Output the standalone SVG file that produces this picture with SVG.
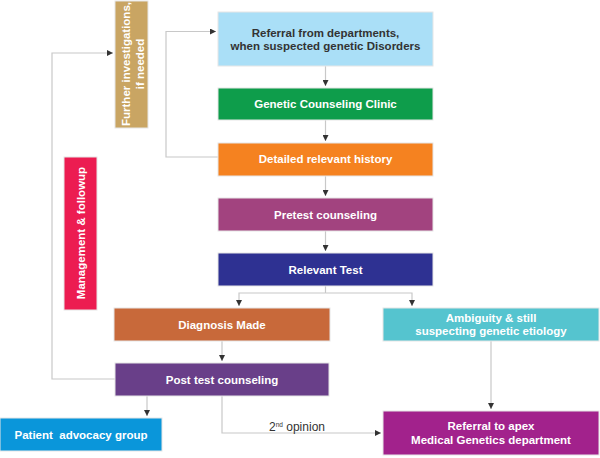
<svg xmlns="http://www.w3.org/2000/svg" width="600" height="458" viewBox="0 0 600 458">
<defs>
<marker id="ah" viewBox="0 0 10 10" refX="10" refY="5" markerWidth="7" markerHeight="6" markerUnits="userSpaceOnUse" orient="auto">
<path d="M0,0 L10,5 L0,10 Z" fill="#333"/>
</marker>
</defs>
<style>
.box{stroke:#e6e6e6;stroke-width:1}
.t{font-family:"Liberation Sans",Arial,sans-serif;font-weight:bold;font-size:11.5px;fill:#fff;text-anchor:middle}
.dk{fill:#333}
.ln{fill:none;stroke:#c8c8c8;stroke-width:1.2}
.lab{font-family:"Liberation Sans",Arial,sans-serif;font-size:12px;fill:#333;text-anchor:middle}
</style>
<rect width="600" height="458" fill="#fff"/>
<g id="connectors">
<path class="ln" d="M325.5,66 V86" marker-end="url(#ah)"/>
<path class="ln" d="M325.5,120 V141" marker-end="url(#ah)"/>
<path class="ln" d="M325.5,176 V196" marker-end="url(#ah)"/>
<path class="ln" d="M325.5,231 V251" marker-end="url(#ah)"/>
<path class="ln" d="M218,157 H166 V31.5 H216" marker-end="url(#ah)"/>
<path class="ln" d="M325.5,286 V293"/>
<path class="ln" d="M325.5,293 H239 V306" marker-end="url(#ah)"/>
<path class="ln" d="M325.5,293 H412 V306" marker-end="url(#ah)"/>
<path class="ln" d="M222,341 V361" marker-end="url(#ah)"/>
<path class="ln" d="M115,379 H52 V53 H113" marker-end="url(#ah)"/>
<path class="ln" d="M147,396 V416" marker-end="url(#ah)"/>
<path class="ln" d="M222,396 V433 H381" marker-end="url(#ah)"/>
<path class="ln" d="M491,341 V409" marker-end="url(#ah)"/>
<text class="lab" x="297" y="431">2<tspan font-size="6.5" dy="-4.5">nd</tspan><tspan dy="4.5"> opinion</tspan></text>
</g>
<g id="further">
<rect class="box" x="115" y="1" width="33" height="127" fill="#c9a563"/>
<g transform="translate(131.5,64) rotate(-90)">
<text class="t" x="0" y="-1.5">Further investigations,</text>
<text class="t" x="0" y="12.5">if needed</text>
</g>
</g>
<g id="management">
<rect class="box" x="64" y="157" width="33" height="153" fill="#ec1c51"/>
<text class="t" transform="translate(80.5,233) rotate(-90)" x="0" y="4">Management &amp; followup</text>
</g>
<g id="referral">
<rect class="box" x="218" y="12" width="215" height="54" fill="#aadff7"/>
<text class="t dk" x="325.5" y="37">Referral from departments,</text>
<text class="t dk" x="325.5" y="49.5">when suspected genetic Disorders</text>
</g>
<g id="clinic">
<rect class="box" x="218" y="88" width="215" height="32" fill="#0e9d4b"/>
<text class="t" x="325.5" y="108">Genetic Counseling Clinic</text>
</g>
<g id="history">
<rect class="box" x="218" y="143" width="215" height="33" fill="#f58220"/>
<text class="t" x="325.5" y="163">Detailed relevant history</text>
</g>
<g id="pretest">
<rect class="box" x="218" y="198" width="215" height="33" fill="#a2437f"/>
<text class="t" x="325.5" y="218.5">Pretest counseling</text>
</g>
<g id="test">
<rect class="box" x="218" y="253" width="215" height="33" fill="#2e3192"/>
<text class="t" x="325.5" y="273.5">Relevant Test</text>
</g>
<g id="diagnosis">
<rect class="box" x="114" y="308" width="216" height="33" fill="#c8693a"/>
<text class="t" x="222" y="328.5">Diagnosis Made</text>
</g>
<g id="ambiguity">
<rect class="box" x="383" y="308" width="216" height="33" fill="#55c4cf"/>
<text class="t" x="491" y="322">Ambiguity &amp; still</text>
<text class="t" x="491" y="335">suspecting genetic etiology</text>
</g>
<g id="posttest">
<rect class="box" x="115" y="363" width="214" height="33" fill="#693f89"/>
<text class="t" x="222" y="383.5">Post test counseling</text>
</g>
<g id="advocacy">
<rect class="box" x="0" y="418" width="162" height="33" fill="#0a96da"/>
<text class="t" x="81" y="438.5" xml:space="preserve">Patient  advocacy group</text>
</g>
<g id="apex">
<rect class="box" x="383" y="411" width="216" height="44" fill="#a2228c"/>
<text class="t" x="491" y="430">Referral to apex</text>
<text class="t" x="491" y="443.5">Medical Genetics department</text>
</g>
</svg>
